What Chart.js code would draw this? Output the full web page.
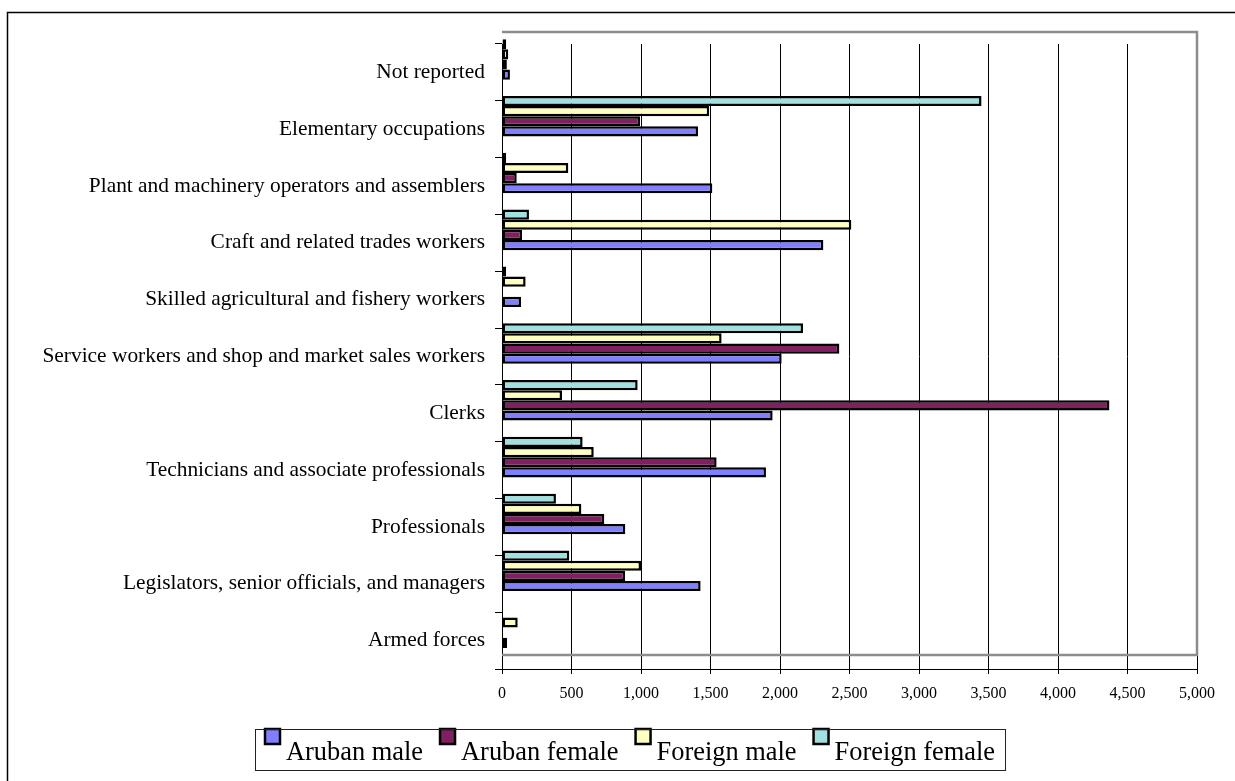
<!DOCTYPE html>
<html>
<head>
<meta charset="utf-8">
<script src="https://cdn.jsdelivr.net/npm/chart.js@4.4.1/dist/chart.umd.min.js"></script>
<style>
html, body { margin: 0; padding: 0; background: #fff; }
</style>
</head>
<body>
<canvas id="chart" width="1235" height="781"></canvas>
<script>
// categories listed bottom to top (the y axis is reversed, like Excel)
const categories = [
    "Armed forces",
    "Legislators, senior officials, and managers",
    "Professionals",
    "Technicians and associate professionals",
    "Clerks",
    "Service workers and shop and market sales workers",
    "Skilled agricultural and fishery workers",
    "Craft and related trades workers",
    "Plant and machinery operators and assemblers",
    "Elementary occupations",
    "Not reported"
];

const seriesNames = ["Aruban male", "Aruban female", "Foreign male", "Foreign female"];
const arubanMale    = [36, 1429, 887, 1899, 1947, 2012, 137, 2312, 1513, 1410, 57];
const arubanFemale  = [0, 885, 736, 1544, 4370, 2427, 0, 144, 106, 993, 35];
const foreignMale   = [113, 1000, 571, 660, 432, 1580, 170, 2513, 477, 1491, 45];
const foreignFemale = [0, 484, 388, 580, 976, 2166, 30, 194, 30, 3450, 30];
const seriesColors  = ["#8080FF", "#802060", "#FFFFC0", "#A0E0E0"];

const xTicks = [0, 500, 1000, 1500, 2000, 2500, 3000, 3500, 4000, 4500, 5000];

const serif = '"Liberation Serif", "Times New Roman", serif';

// Excel draws the bars on the back wall, a little above the category axis
const depthShift = {
    id: 'depthShift',
    beforeDatasetsDraw(chart) {
        const {ctx, chartArea: a} = chart;
        ctx.save();
        ctx.strokeStyle = '#8c8c8c';
        ctx.lineWidth = 2.5;
        ctx.beginPath();
        ctx.moveTo(a.left, a.top - 12);
        ctx.lineTo(a.right, a.top - 12);
        ctx.lineTo(a.right, a.bottom - 14);
        ctx.lineTo(a.left, a.bottom - 14);
        ctx.stroke();
        ctx.restore();
        ctx.save();
        ctx.translate(0, -13);
    },
    afterDatasetsDraw(chart) {
        chart.ctx.restore();
    }
};

// boxed legend with the little squares sitting high, as in the original
const boxLegend = {
    id: 'boxLegend',
    afterDraw(chart) {
        const ctx = chart.ctx;
        ctx.save();
        // outer frame (right and bottom edges fall outside the picture)
        ctx.strokeStyle = '#000';
        ctx.lineWidth = 1.5;
        ctx.beginPath();
        ctx.moveTo(1235, 12.5);
        ctx.lineTo(7.5, 12.5);
        ctx.lineTo(7.5, 781);
        ctx.stroke();

        ctx.font = '26.4px ' + serif;
        ctx.textBaseline = 'alphabetic';
        const boxLeft = 255;
        let x = 264;
        // legend follows series order, datasets are stored top-of-group first
        const items = chart.data.datasets.slice().reverse();
        items.forEach((ds, i) => {
            ctx.fillStyle = ds.backgroundColor;
            ctx.fillRect(x + 1, 729, 15, 15);
            ctx.lineWidth = 2.5;
            ctx.strokeStyle = '#000';
            ctx.strokeRect(x + 1, 729, 15, 15);
            ctx.fillStyle = '#000';
            ctx.fillText(ds.label, x + 22, 760);
            const w = ctx.measureText(ds.label).width;
            x = x + 22 + w + (i < items.length - 1 ? 16 : 10);
        });
        ctx.lineWidth = 1;
        ctx.strokeStyle = '#222';
        ctx.strokeRect(boxLeft + 0.5, 729.5, x - boxLeft, 41);
        ctx.restore();
    }
};

const seriesValues = [arubanMale, arubanFemale, foreignMale, foreignFemale];

// first dataset is drawn at the top of each group, so feed them in reverse
const datasets = seriesNames.map((name, i) => ({
    label: name,
    data: seriesValues[i],
    backgroundColor: seriesColors[i],
    borderColor: '#000',
    borderWidth: 2.5,
    borderSkipped: false,
    categoryPercentage: 0.714,
    barPercentage: 1.0
})).reverse();

new Chart(document.getElementById("chart"), {
    type: 'bar',
    data: {
        labels: categories,
        datasets: datasets
    },
    options: {
        indexAxis: 'y',
        responsive: false,
        devicePixelRatio: 1,
        animation: false,
        layout: { padding: { left: 0, right: 38, top: 44, bottom: 0 } },
        plugins: {
            legend: { display: false },
            tooltip: { enabled: false }
        },
        scales: {
            x: {
                min: 0,
                max: 5000,
                afterBuildTicks: scale => {
                    scale.ticks = xTicks.map(v => ({ value: v }));
                },
                afterFit: scale => { scale.height = 112; },
                ticks: {
                    color: '#000',
                    font: { family: serif, size: 16 },
                    padding: 10,
                    maxRotation: 0,
                    callback: v => Number(v).toLocaleString('en-US')
                },
                grid: { color: '#000', lineWidth: 1, tickLength: 5 },
                border: { color: '#000', width: 1 }
            },
            y: {
                reverse: true,
                afterFit: scale => { scale.width = 502; },
                ticks: {
                    color: '#000',
                    font: { family: serif, size: 21.4 },
                    padding: 10,
                    autoSkip: false
                },
                grid: { drawOnChartArea: false, color: '#000', tickLength: 7, offset: true },
                border: { color: '#000', width: 1 }
            }
        }
    },
    plugins: [depthShift, boxLegend]
});
</script>
</body>
</html>
